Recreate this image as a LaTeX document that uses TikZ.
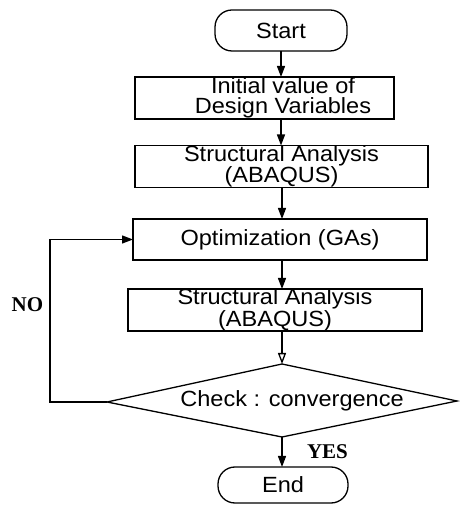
\documentclass[tikz,border=0pt]{standalone}
\usepackage{fontspec}
\setmainfont{Liberation Sans}[FakeStretch=1.07]
\newfontfamily\labelserif{Liberation Serif}
\usetikzlibrary{arrows.meta,shapes.geometric}
\begin{document}
\begin{tikzpicture}[x=1pt,y=1pt,
  every node/.style={inner sep=0pt, outer sep=0pt},
  boxnode/.style={draw, line width=1.3pt, rectangle},
  termnode/.style={draw, line width=1.3pt, rectangle, rounded corners=17pt},
  txtnode/.style={font=\fontsize{22}{20}\selectfont, align=center},
  lbl/.style={font=\labelserif\bfseries\fontsize{21}{22}\selectfont},
  flow/.style={line width=1.3pt, -{Triangle[length=11pt,width=8pt]}},
  openflow/.style={line width=1.3pt, -{Triangle[open,length=11pt,width=8pt]}}
]
\useasboundingbox (0,0) rectangle (459,505);
% Start
\node[termnode, minimum width=132pt, minimum height=41pt, txtnode] (start) at (281,474.5) {Start};
% Box 1
\node[boxnode, minimum width=259pt, minimum height=42pt] (b1) at (264.5,407) {};
\node[txtnode] (b1t) at (283,407) {Initial value of\\Design Variables};
% Box 2
\node[boxnode, minimum width=293pt, minimum height=41pt, txtnode] (b2) at (281.5,338.5) {Structural Analysis\\(ABAQUS)};
% Box 3
\node[boxnode, minimum width=294pt, minimum height=41pt, txtnode] (b3) at (280,265.5) {Optimization (GAs)};
% Box 4
\node[boxnode, minimum width=294pt, minimum height=40pt, txtnode] (b4) at (275,195) {Structural Analysis\\(ABAQUS)};
% Diamond
\coordinate (dtop) at (282,141);
\coordinate (dleft) at (107,103);
\coordinate (dright) at (457,104);
\coordinate (dbot) at (282,68);
\draw[line width=1.3pt] (dtop) -- (dright) -- (dbot) -- (dleft) -- cycle;
\node[txtnode] (dtxt) at (292,104) {Check : convergence};
% End
\node[termnode, minimum width=130pt, minimum height=36pt, txtnode] (end) at (283,20) {End};
% Connectors
\draw[flow] (start.south) -- (start.south |- b1.north);
\draw[flow] (start.south |- b1.south) -- (start.south |- b2.north);
\draw[flow] (b2.south -| dtop) -- (b3.north -| dtop);
\draw[flow] (b3.south -| dtop) -- (b4.north -| dtop);
\draw[openflow] (b4.south -| dtop) -- (dtop);
\draw[flow] (dbot) -- (end.north -| dbot);
\draw[flow] (dleft) -- (50,103) |- (b3.west);
% Labels
\node[lbl] (no) at (27.5,200) {NO};
\node[lbl] (yes) at (327.5,53) {YES};
\end{tikzpicture}
\end{document}
